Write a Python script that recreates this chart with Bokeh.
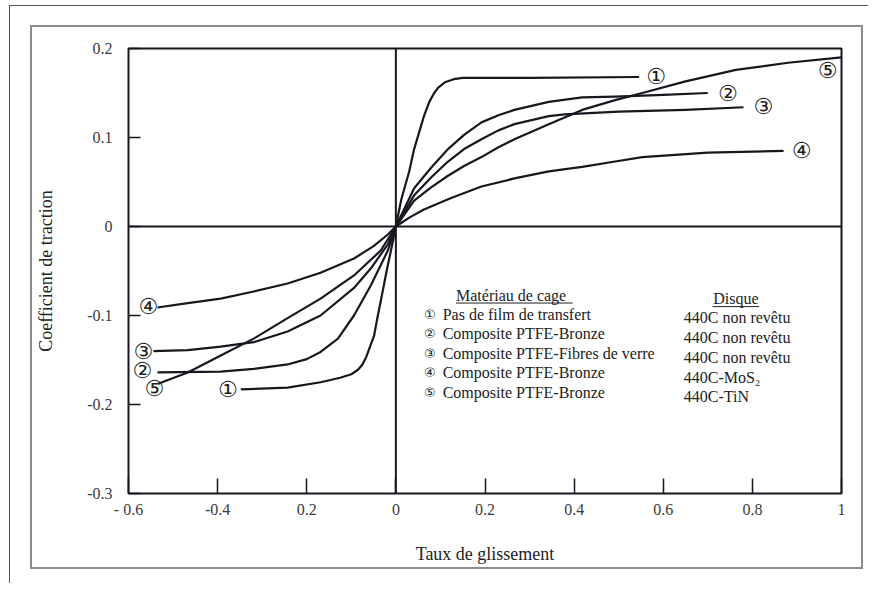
from bokeh.plotting import figure
from bokeh.models import FixedTicker, Span
from bokeh.core.properties import value
from bokeh.embed import file_html
from bokeh.resources import INLINE

# ---------------- data ----------------
c1_x = [-0.348, -0.243, -0.169, -0.125, -0.100, -0.085, -0.075, -0.066, -0.058, -0.049, -0.042, -0.034,
        -0.020, -0.011, 0.0, 0.012, 0.030, 0.041, 0.063, 0.075, 0.086, 0.095, 0.110, 0.130, 0.150,
        0.300, 0.546]
c1_y = [-0.183, -0.181, -0.175, -0.170, -0.166, -0.161, -0.155, -0.146, -0.135, -0.123, -0.104, -0.084,
        -0.048, -0.027, 0.0, 0.030, 0.062, 0.087, 0.124, 0.140, 0.150, 0.156, 0.162, 0.1655, 0.167,
        0.167, 0.168]

c2_x = [-0.535, -0.393, -0.319, -0.243, -0.200, -0.169, -0.130, -0.094, -0.056, -0.018, 0.0,
        0.041, 0.079, 0.117, 0.153, 0.192, 0.230, 0.266, 0.343, 0.418, 0.492, 0.600, 0.700]
c2_y = [-0.164, -0.163, -0.160, -0.155, -0.149, -0.141, -0.126, -0.100, -0.066, -0.027, 0.0,
        0.043, 0.066, 0.087, 0.103, 0.117, 0.125, 0.131, 0.140, 0.145, 0.146, 0.148, 0.150]

c3_x = [-0.544, -0.467, -0.393, -0.319, -0.243, -0.169, -0.094, -0.056, -0.018, 0.0,
        0.041, 0.079, 0.117, 0.153, 0.192, 0.230, 0.266, 0.343, 0.379, 0.500, 0.650, 0.780]
c3_y = [-0.140, -0.139, -0.135, -0.130, -0.118, -0.100, -0.069, -0.047, -0.020, 0.0,
        0.035, 0.055, 0.073, 0.087, 0.098, 0.108, 0.115, 0.124, 0.126, 0.129, 0.131, 0.134]

c4_x = [-0.535, -0.467, -0.393, -0.319, -0.243, -0.169, -0.094, -0.050, -0.018, 0.0,
        0.030, 0.063, 0.124, 0.192, 0.266, 0.343, 0.418, 0.492, 0.553, 0.700, 0.870]
c4_y = [-0.091, -0.086, -0.081, -0.073, -0.064, -0.052, -0.036, -0.022, -0.009, 0.0,
        0.010, 0.019, 0.032, 0.045, 0.054, 0.062, 0.067, 0.073, 0.078, 0.083, 0.085]

c5_x = [-0.535, -0.467, -0.393, -0.319, -0.243, -0.169, -0.094, -0.034, 0.0,
        0.041, 0.079, 0.117, 0.153, 0.192, 0.230, 0.266, 0.343, 0.418, 0.492, 0.553, 0.650, 0.763,
        0.880, 1.000]
c5_y = [-0.177, -0.164, -0.145, -0.126, -0.103, -0.081, -0.055, -0.027, 0.0,
        0.029, 0.044, 0.057, 0.068, 0.078, 0.089, 0.098, 0.115, 0.131, 0.142, 0.150, 0.163, 0.176,
        0.184, 0.190]

x_ticks = [-0.6, -0.4, -0.2, 0.0, 0.2, 0.4, 0.6, 0.8, 1.0]
x_tick_labels = ["- 0.6", "-0.4", "0.2", "0", "0.2", "0.4", "0.6", "0.8", "1"]
y_ticks = [-0.3, -0.2, -0.1, 0.0, 0.1, 0.2]
y_tick_labels = ["-0.3", "-0.2", "-0.1", "0", "0.1", "0.2"]

curve_ids = ["①", "②", "③", "④", "⑤"]
legend_title = "Matériau de cage"
materials = ["Pas de film de transfert", "Composite PTFE-Bronze",
             "Composite PTFE-Fibres de verre", "Composite PTFE-Bronze", "Composite PTFE-Bronze"]
disque_title = "Disque"
disques = ["440C non revêtu", "440C non revêtu", "440C non revêtu", "440C-MoS₂", "440C-TiN"]

# ---------------- styling ----------------
SERIF = "Liberation Serif"
INK = "#17171f"
GREY = "#3a3a3a"

p = figure(width=868, height=583, x_range=(-0.6, 1.0), y_range=(-0.3, 0.2),
           output_backend="svg", toolbar_location=None,
           min_border_left=128, min_border_right=27, min_border_top=48, min_border_bottom=90)
p.grid.visible = False
p.outline_line_color = INK
p.outline_line_width = 2
p.background_fill_color = "white"
p.border_fill_color = None

# decorative frames of the scanned page, drawn as CSS background lines behind the canvas
frame_layers = [
    "linear-gradient(#555555,#555555) 9px 5px / 1px 578px no-repeat",
    "linear-gradient(#555555,#555555) 9px 5px / 859px 1px no-repeat",
    "linear-gradient(#8c8c8c,#8c8c8c) 30px 25px / 2px 544px no-repeat",
    "linear-gradient(#8c8c8c,#8c8c8c) 861px 25px / 2px 544px no-repeat",
    "linear-gradient(#8c8c8c,#8c8c8c) 30px 25px / 833px 2px no-repeat",
    "linear-gradient(#8c8c8c,#8c8c8c) 30px 567px / 833px 2px no-repeat",
]
p.styles = {"background": ", ".join(frame_layers) + ", #ffffff"}

p.xaxis.ticker = FixedTicker(ticks=x_ticks)
p.xaxis.major_label_overrides = dict(zip(x_ticks, x_tick_labels))
p.yaxis.ticker = FixedTicker(ticks=y_ticks)
p.yaxis.major_label_overrides = dict(zip(y_ticks, y_tick_labels))

for ax in (p.xaxis, p.yaxis):
    ax.axis_line_color = None
    ax.major_tick_out = 0
    ax.minor_tick_line_color = None
    ax.major_tick_line_color = INK
    ax.major_tick_line_width = 1.5
    ax.major_label_text_font = SERIF
    ax.major_label_text_font_size = "16px"
    ax.major_label_text_color = GREY
    ax.axis_label_text_font = SERIF
    ax.axis_label_text_font_size = "18px"
    ax.axis_label_text_font_style = "normal"
    ax.axis_label_text_color = "#222222"

p.xaxis.major_tick_in = 15
p.yaxis.major_tick_in = 12
p.xaxis.major_label_standoff = 7
p.yaxis.major_label_standoff = 16
p.xaxis.axis_label = "Taux de glissement"
p.yaxis.axis_label = "Coefficient de traction"
p.xaxis.axis_label_standoff = 23
p.yaxis.axis_label_standoff = 28

p.add_layout(Span(location=0, dimension="height", line_color=INK, line_width=2))
p.add_layout(Span(location=0, dimension="width", line_color=INK, line_width=2))

curves = [(c1_x, c1_y), (c2_x, c2_y), (c3_x, c3_y), (c4_x, c4_y), (c5_x, c5_y)]
for cx, cy in curves:
    p.line(cx, cy, line_color=INK, line_width=2.2, line_join="round")

# circled labels at the curve ends
p.text(x=[c[0][-1] for c in curves], y=[c[1][-1] for c in curves], text=curve_ids,
       x_offset=[17, 20, 20, 18, -14], y_offset=[0, 0, -1, 0, 13],
       text_align="center", text_baseline="middle",
       text_font=value("DejaVu Sans"), text_font_size="22px", text_color="#222222")
p.text(x=[c[0][0] for c in curves], y=[c[1][0] for c in curves], text=curve_ids,
       x_offset=[-13, -15, -10, -9, -3], y_offset=[0, -2, 0, -1, 4],
       text_align="center", text_baseline="middle",
       text_font=value("DejaVu Sans"), text_font_size="22px", text_color="#222222")

# legend block
leg_y = [-0.099, -0.120, -0.143, -0.164, -0.187]
dis_y = [-0.102, -0.125, -0.147, -0.170, -0.191]
p.text(x=[0.135], y=[-0.0775], text=[legend_title], text_align="left", text_baseline="middle",
       text_font=value(SERIF), text_font_size="16px", text_color="#222222")
p.segment(x0=[0.135], y0=[-0.0860], x1=[0.397], y1=[-0.0860], line_color="#222222", line_width=1)
p.text(x=[0.076] * 5, y=leg_y, text=curve_ids, text_align="center", text_baseline="middle",
       text_font=value("DejaVu Sans"), text_font_size="13px", text_color="#222222")
p.text(x=[0.105] * 5, y=leg_y, text=materials, text_align="left", text_baseline="middle",
       text_font=value(SERIF), text_font_size="16px", text_color="#222222")
p.text(x=[0.763], y=[-0.081], text=[disque_title], text_align="center", text_baseline="middle",
       text_font=value(SERIF), text_font_size="16px", text_color="#222222")
p.segment(x0=[0.711], y0=[-0.0900], x1=[0.815], y1=[-0.0900], line_color="#222222", line_width=1)
p.text(x=[0.646] * 5, y=dis_y, text=disques, text_align="left", text_baseline="middle",
       text_font=value(SERIF), text_font_size="16px", text_color="#222222")

open("out.html", "w").write(file_html(p, INLINE))
